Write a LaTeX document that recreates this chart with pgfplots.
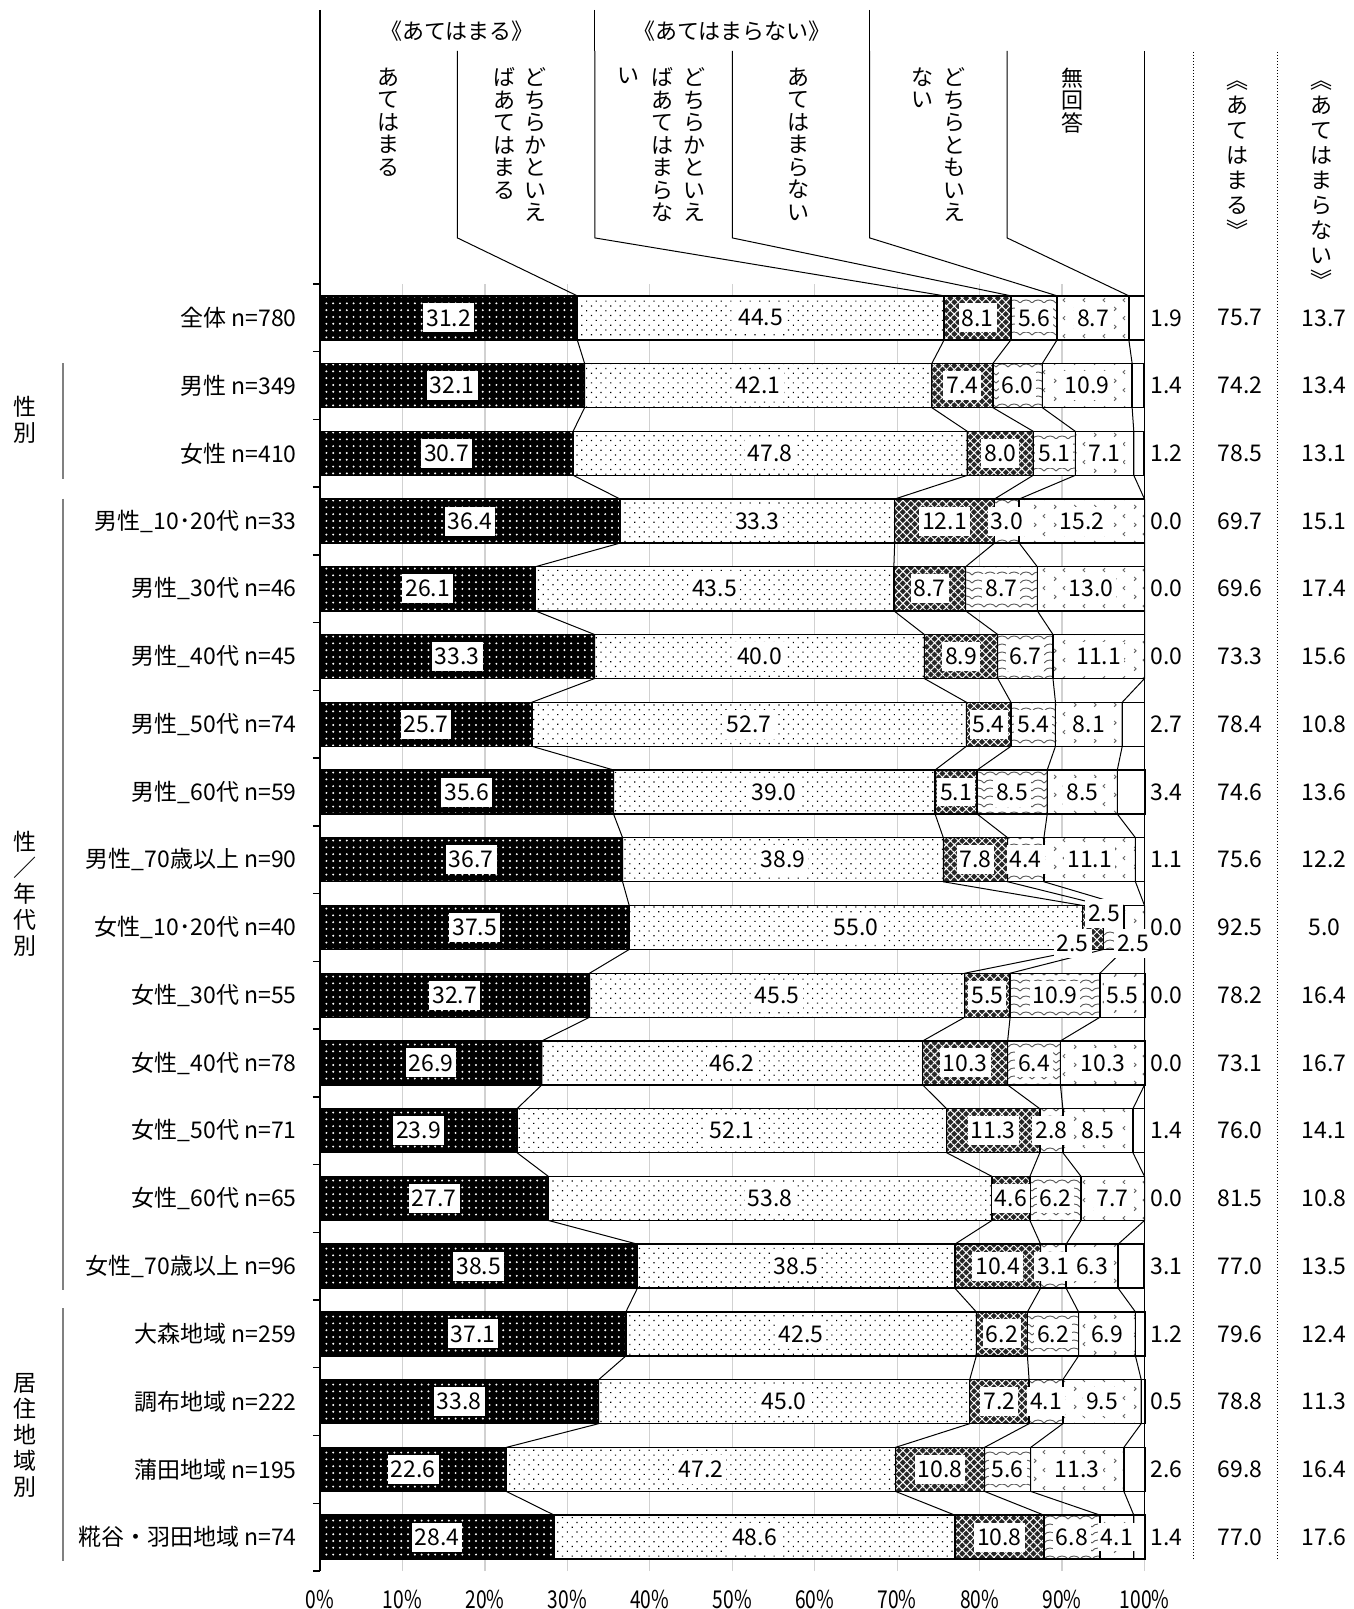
\documentclass[border=0pt]{standalone}
\usepackage{fontspec}
\setmainfont{Noto Sans CJK JP}
\usepackage{graphicx}
\usepackage{pgfplots}
\usepackage{pgfplotstable}
\pgfplotsset{compat=1.18}
\usetikzlibrary{patterns,patterns.meta}

\newcommand\fs{\fontsize{11.5}{13}\selectfont}
\newcommand\hf{\fontsize{11}{11.25}\selectfont}
\newcommand\sx[1]{\scalebox{0.78}[1]{#1}}

\pgfdeclarepatternformonly{waves}{\pgfqpoint{-0.5pt}{-0.5pt}}{\pgfqpoint{6.5pt}{4.5pt}}{\pgfqpoint{6pt}{4pt}}{%
  \pgfsetlinewidth{0.45pt}%
  \pgfpathmoveto{\pgfqpoint{0pt}{1pt}}%
  \pgfpathcurveto{\pgfqpoint{1.5pt}{3pt}}{\pgfqpoint{4.5pt}{3pt}}{\pgfqpoint{6pt}{1pt}}%
  \pgfusepath{stroke}}
\pgfdeclarepatternformonly{chev}{\pgfqpoint{0pt}{0pt}}{\pgfqpoint{10pt}{9pt}}{\pgfqpoint{10pt}{9pt}}{%
  \pgfsetlinewidth{0.5pt}%
  \pgfpathmoveto{\pgfqpoint{2.6pt}{7.8pt}}\pgfpathlineto{\pgfqpoint{1.6pt}{6.8pt}}\pgfpathlineto{\pgfqpoint{2.6pt}{5.8pt}}%
  \pgfpathmoveto{\pgfqpoint{7.4pt}{3.2pt}}\pgfpathlineto{\pgfqpoint{8.4pt}{2.2pt}}\pgfpathlineto{\pgfqpoint{7.4pt}{1.2pt}}%
  \pgfusepath{stroke}}

\pgfplotstableread{
y a b c d e f t1 t2
1 31.2 44.5 8.1 5.6 8.7 1.9 75.7 13.7
2 32.1 42.1 7.4 6.0 10.9 1.4 74.2 13.4
3 30.7 47.8 8.0 5.1 7.1 1.2 78.5 13.1
4 36.4 33.3 12.1 3.0 15.2 0.0 69.7 15.1
5 26.1 43.5 8.7 8.7 13.0 0.0 69.6 17.4
6 33.3 40.0 8.9 6.7 11.1 0.0 73.3 15.6
7 25.7 52.7 5.4 5.4 8.1 2.7 78.4 10.8
8 35.6 39.0 5.1 8.5 8.5 3.4 74.6 13.6
9 36.7 38.9 7.8 4.4 11.1 1.1 75.6 12.2
10 37.5 55.0 2.5 2.5 2.5 0.0 92.5 5.0
11 32.7 45.5 5.5 10.9 5.5 0.0 78.2 16.4
12 26.9 46.2 10.3 6.4 10.3 0.0 73.1 16.7
13 23.9 52.1 11.3 2.8 8.5 1.4 76.0 14.1
14 27.7 53.8 4.6 6.2 7.7 0.0 81.5 10.8
15 38.5 38.5 10.4 3.1 6.3 3.1 77.0 13.5
16 37.1 42.5 6.2 6.2 6.9 1.2 79.6 12.4
17 33.8 45.0 7.2 4.1 9.5 0.5 78.8 11.3
18 22.6 47.2 10.8 5.6 11.3 2.6 69.8 16.4
19 28.4 48.6 10.8 6.8 4.1 1.4 77.0 17.6
}\data

% cumulative boundaries, top and bottom of every bar (first two rows: header leaders)
\pgfplotstableread{
Y c1 c2 c3 c4 c5
22.94 16.667 33.333 50 66.667 83.333
20.18 16.667 33.333 50 66.667 83.333
19.325 31.2 75.7 83.8 89.4 98.1
18.675 31.2 75.7 83.8 89.4 98.1
18.325 32.1 74.2 81.6 87.6 98.5
17.675 32.1 74.2 81.6 87.6 98.5
17.325 30.7 78.5 86.5 91.6 98.7
16.675 30.7 78.5 86.5 91.6 98.7
16.325 36.4 69.7 81.8 84.8 100.0
15.675 36.4 69.7 81.8 84.8 100.0
15.325 26.1 69.6 78.3 87.0 100.0
14.675 26.1 69.6 78.3 87.0 100.0
14.325 33.3 73.3 82.2 88.9 100.0
13.675 33.3 73.3 82.2 88.9 100.0
13.325 25.7 78.4 83.8 89.2 97.3
12.675 25.7 78.4 83.8 89.2 97.3
12.325 35.6 74.6 79.7 88.2 96.7
11.675 35.6 74.6 79.7 88.2 96.7
11.325 36.7 75.6 83.4 87.8 98.9
10.675 36.7 75.6 83.4 87.8 98.9
10.325 37.5 92.5 95.0 97.5 100.0
9.675 37.5 92.5 95.0 97.5 100.0
9.325 32.7 78.2 83.7 94.6 100.0
8.675 32.7 78.2 83.7 94.6 100.0
8.325 26.9 73.1 83.4 89.8 100.0
7.675 26.9 73.1 83.4 89.8 100.0
7.325 23.9 76.0 87.3 90.1 98.6
6.675 23.9 76.0 87.3 90.1 98.6
6.325 27.7 81.5 86.1 92.3 100.0
5.675 27.7 81.5 86.1 92.3 100.0
5.325 38.5 77.0 87.4 90.5 96.8
4.675 38.5 77.0 87.4 90.5 96.8
4.325 37.1 79.6 85.8 92.0 98.9
3.675 37.1 79.6 85.8 92.0 98.9
3.325 33.8 78.8 86.0 90.1 99.6
2.675 33.8 78.8 86.0 90.1 99.6
2.325 22.6 69.8 80.6 86.2 97.5
1.675 22.6 69.8 80.6 86.2 97.5
1.325 28.4 77.0 87.8 94.6 98.7
0.675 28.4 77.0 87.8 94.6 98.7
}\lines

\pgfplotsset{
  seg/.style={draw=black, line width=0.7pt},
  lbl/.style={draw=none, mark=none, forget plot, nodes near coords, point meta=explicit symbolic,
    nodes near coords style={font=\fs, fill=white, inner xsep=1.5pt, inner ysep=3pt, anchor=center}},
  val/.style={draw=none, mark=none, forget plot, nodes near coords, point meta=explicit symbolic,
    nodes near coords style={font=\fs, inner sep=1pt, anchor=center}},
  conn/.style={black, line width=0.5pt, mark=none, forget plot},
}

\begin{document}
\begin{tikzpicture}
\path[use as bounding box] (-160pt,-19pt) rectangle (516.5pt,785.5pt);

\begin{axis}[
  at={(0,0)}, anchor=south west, scale only axis,
  width=412.25pt, height=643.5pt,
  xmin=0, xmax=100, ymin=0.5, ymax=19.5,
  xbar stacked, bar width=0.65,
  axis lines=left, axis line style={-, line width=0.7pt},
  x axis line style={draw=none},
  xtick={0,10,...,100},
  xticklabels={\sx{0\%},\sx{10\%},\sx{20\%},\sx{30\%},\sx{40\%},\sx{50\%},\sx{60\%},\sx{70\%},\sx{80\%},\sx{90\%},\sx{100\%}},
  xtick style={draw=none},
  xmajorgrids, grid style={black!18, line width=0.6pt},
  ytick={1,...,19},
  yticklabels={糀谷・羽田地域 n=74,蒲田地域 n=195,調布地域 n=222,大森地域 n=259,女性\_70歳以上 n=96,女性\_60代 n=65,女性\_50代 n=71,女性\_40代 n=78,女性\_30代 n=55,女性\_10･20代 n=40,男性\_70歳以上 n=90,男性\_60代 n=59,男性\_50代 n=74,男性\_40代 n=45,男性\_30代 n=46,男性\_10･20代 n=33,女性 n=410,男性 n=349,全体 n=780},
  minor ytick={0.5,1.5,...,19.5},
  major tick length=0pt, minor tick length=3.5pt, tick align=outside,
  minor tick style={black, line width=0.7pt},
  yticklabel style={font=\fs, anchor=east, inner sep=0pt, xshift=-11.5pt},
  xticklabel style={font=\fontsize{12.3}{14}\selectfont, anchor=north, inner sep=0pt, yshift=-9.5pt},
  clip=false,
]
\addplot[seg, preaction={fill=black}, pattern={Dots[distance=3.4pt, radius=0.55pt]}, pattern color=white]
  table[x=a, y expr=20-\thisrow{y}]{\data};
\addplot[seg, preaction={fill=white}, pattern={Dots[distance=3.4pt, radius=0.42pt, angle=45]}, pattern color=black]
  table[x=b, y expr=20-\thisrow{y}]{\data};
\addplot[seg, preaction={fill=black!85}, pattern={Hatch[distance=2.8pt, line width=0.5pt, angle=45]}, pattern color=white]
  table[x=c, y expr=20-\thisrow{y}]{\data};
\addplot[seg, preaction={fill=white}, pattern=waves, pattern color=black!65]
  table[x=d, y expr=20-\thisrow{y}]{\data};
\addplot[seg, preaction={fill=white}, pattern=chev, pattern color=black!60]
  table[x=e, y expr=20-\thisrow{y}]{\data};
\addplot[seg, fill=white]
  table[x=f, y expr=20-\thisrow{y}]{\data};
\end{axis}

\begin{axis}[
  at={(0,0)}, anchor=south west, scale only axis,
  width=412.25pt, height=643.5pt,
  xmin=0, xmax=100, ymin=0.5, ymax=19.5,
  hide axis, clip=false,
]
% connector lines between bars (and header leaders)
\addplot[conn] table[x=c1, y=Y]{\lines};
\addplot[conn] table[x=c2, y=Y]{\lines};
\addplot[conn] table[x=c3, y=Y]{\lines};
\addplot[conn] table[x=c4, y=Y]{\lines};
\addplot[conn] table[x=c5, y=Y]{\lines};
\addplot[conn, line width=0.7pt] coordinates {(0,23.545) (0,19.5)};
\addplot[conn] coordinates {(100,22.94) (100,0.675)};
\addplot[conn] coordinates {(33.333,23.545) (33.333,22.94)};
\addplot[conn] coordinates {(66.667,23.545) (66.667,22.94)};
\addplot[conn, densely dotted, line width=0.6pt] coordinates {(105.9,22.925) (105.9,0.68)};
\addplot[conn, densely dotted, line width=0.6pt] coordinates {(116.1,22.925) (116.1,0.68)};

% labels inside bars
\addplot[lbl] table[x expr=\thisrow{a}/2, y expr=20-\thisrow{y}, meta=a]{\data};
\addplot[lbl] table[x expr=\thisrow{a}+\thisrow{b}/2, y expr=20-\thisrow{y}, meta=b]{\data};
\addplot[lbl, skip coords between index={9}{10}] table[x expr=\thisrow{a}+\thisrow{b}+\thisrow{c}/2, y expr=20-\thisrow{y}, meta=c]{\data};
\addplot[lbl, skip coords between index={9}{10}] table[x expr=\thisrow{a}+\thisrow{b}+\thisrow{c}+\thisrow{d}/2, y expr=20-\thisrow{y}, meta=d]{\data};
\addplot[lbl, skip coords between index={9}{10}] table[x expr=\thisrow{a}+\thisrow{b}+\thisrow{c}+\thisrow{d}+\thisrow{e}/2, y expr=20-\thisrow{y}, meta=e]{\data};
\addplot[lbl] coordinates {(91.3,9.76) [2.5] (95.1,10.21) [2.5] (98.6,9.76) [2.5]};

% right-hand columns
\addplot[val] table[x expr=102.7, y expr=20-\thisrow{y}, meta=f]{\data};
\addplot[val] table[x expr=111.6, y expr=20-\thisrow{y}, meta=t1]{\data};
\addplot[val] table[x expr=121.8, y expr=20-\thisrow{y}, meta=t2]{\data};

% header texts
\node[font=\hf] at (axis cs:16.667,23.23) {《あてはまる》};
\node[font=\hf] at (axis cs:50,23.23) {《あてはまらない》};
\begin{scope}[every node/.style={font=\hf, align=center, inner sep=0pt, anchor=north}]
\node at (axis cs:8.3,22.70) {あ\\て\\は\\ま\\る};
\node at (axis cs:26.1,22.70) {ど\\ち\\ら\\か\\と\\い\\え};
\node at (axis cs:22.4,22.70) {ば\\あ\\て\\は\\ま\\る};
\node at (axis cs:45.4,22.70) {ど\\ち\\ら\\か\\と\\い\\え};
\node at (axis cs:41.5,22.70) {ば\\あ\\て\\は\\ま\\ら\\な};
\node at (axis cs:37.4,22.70) {い};
\node at (axis cs:58.0,22.70) {あ\\て\\は\\ま\\ら\\な\\い};
\node at (axis cs:76.9,22.70) {ど\\ち\\ら\\と\\も\\い\\え};
\node at (axis cs:73.1,22.70) {な\\い};
\node at (axis cs:91.3,22.70) {無\\回\\答};
\end{scope}
\begin{scope}[every node/.style={font=\fontsize{11}{12.5}\selectfont, align=center, inner sep=0pt, anchor=north}]
\node at (axis cs:111.3,22.51) {︽\\あ\\て\\は\\ま\\る\\︾};
\node at (axis cs:121.5,22.51) {︽\\あ\\て\\は\\ま\\ら\\な\\い\\︾};
\end{scope}

% left group labels
\begin{scope}[every node/.style={font=\fontsize{11.5}{13}\selectfont, align=center, inner sep=0pt}]
\node at (axis cs:-35.8,17.5) {性\\別};
\node at (axis cs:-35.8,10.5) {性\\／\\年\\代\\別};
\node at (axis cs:-35.8,2.5) {居\\住\\地\\域\\別};
\end{scope}
\draw[black!50, line width=0.8pt] (axis cs:-31.2,18.33) -- (axis cs:-31.2,16.62);
\draw[black!50, line width=0.8pt] (axis cs:-31.2,16.33) -- (axis cs:-31.2,4.65);
\draw[black!50, line width=0.8pt] (axis cs:-31.2,4.38) -- (axis cs:-31.2,0.65);
\end{axis}
\end{tikzpicture}
\end{document}
